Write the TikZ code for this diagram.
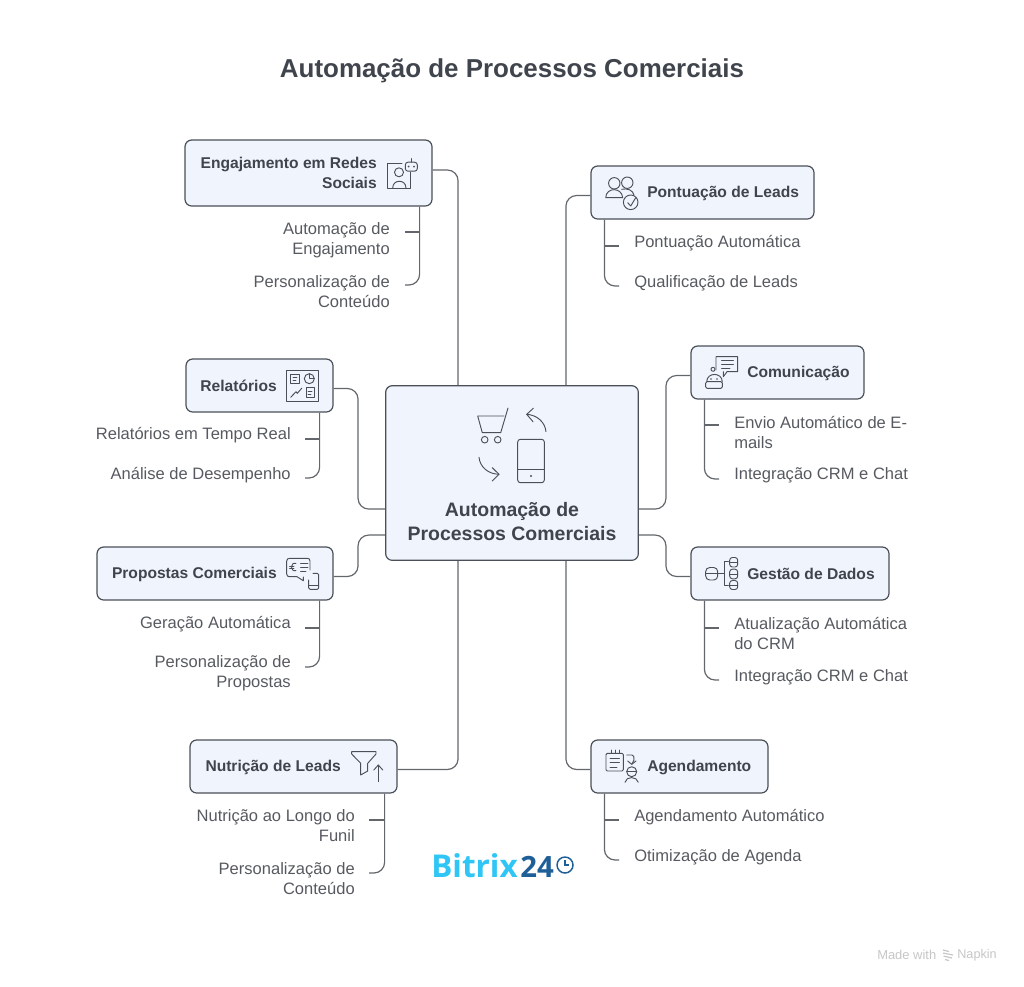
\documentclass[tikz,border=0pt]{standalone}
\usepackage{fontspec}
\usepackage{xcolor}
\usetikzlibrary{calc}
\setmainfont{Liberation Sans}
\newfontfamily\logofont{Open Sans}
\definecolor{boxfill}{HTML}{EFF4FD}
\definecolor{boxline}{HTML}{4B5058}
\definecolor{linkcol}{HTML}{63676C}
\definecolor{headcol}{HTML}{40454D}
\definecolor{leafcol}{HTML}{565A60}
\definecolor{logoblue}{HTML}{2FC6F6}
\definecolor{logodark}{HTML}{1F5F98}
\definecolor{faint}{HTML}{C6C6C6}

\begin{document}
\begin{tikzpicture}[x=0.75pt,y=-0.75pt,
    boxnode/.style={rectangle, draw=boxline, fill=boxfill, line width=0.9pt, rounded corners=5pt, minimum height=39.75pt},
    headnode/.style={inner sep=0pt, text=headcol, font=\bfseries\fontsize{11.7}{15}\selectfont},
    leafnode/.style={inner sep=0pt, text=leafcol, font=\fontsize{12.4}{15}\selectfont},
    link/.style={draw=linkcol, line width=0.9pt, rounded corners=8pt},
    icon/.style={draw=boxline, line width=0.7pt, line cap=round, line join=round}]
    \useasboundingbox (0,0) rectangle (1024,986);

    \node[inner sep=0pt, text=headcol, font=\bfseries\fontsize{19.45}{24}\selectfont] (title) at (512,71) {Automação de Processos Comerciais};

    % boxes
    \node[boxnode, minimum width=185.25pt, minimum height=49.5pt] (eng) at (308.5,173) {};
    \node[boxnode, minimum width=167.25pt] (pon) at (702.5,192.5) {};
    \node[boxnode, minimum width=129.75pt] (com) at (777.5,372.5) {};
    \node[boxnode, minimum width=110.25pt] (rel) at (259.5,385.5) {};
    \node[boxnode, minimum width=189.5pt, minimum height=131pt] (cen) at (512,473) {};
    \node[boxnode, minimum width=177pt] (pro) at (215,573.5) {};
    \node[boxnode, minimum width=148.5pt] (ges) at (790,573.5) {};
    \node[boxnode, minimum width=155.25pt] (nut) at (293.5,766.5) {};
    \node[boxnode, minimum width=132.75pt] (age) at (679.5,766.5) {};

    % box texts
    \node[headnode, align=right, anchor=east] (engT) at (377,173) {Engajamento em Redes\\Sociais};
    \node[headnode, anchor=west] (ponT) at (647,193) {Pontuação de Leads};
    \node[headnode, anchor=west] (comT) at (747,373) {Comunicação};
    \node[headnode, anchor=east] (relT) at (277,386) {Relatórios};
    \node[headnode, anchor=east] (proT) at (277,574) {Propostas Comerciais};
    \node[headnode, anchor=west] (gesT) at (747,574) {Gestão de Dados};
    \node[headnode, anchor=east] (nutT) at (341,767) {Nutrição de Leads};
    \node[headnode, anchor=west] (ageT) at (647,767) {Agendamento};
    \node[headnode, align=center, font=\bfseries\fontsize{14.6}{18}\selectfont] (cenT) at (512,522) {Automação de\\Processos Comerciais};

    % leaves
    \node[leafnode, align=right, anchor=east] (eng1) at (390,240) {Automação de\\Engajamento};
    \node[leafnode, align=right, anchor=east] (eng2) at (390,292) {Personalização de\\Conteúdo};
    \node[leafnode, anchor=west] (pon1) at (634,243) {Pontuação Automática};
    \node[leafnode, anchor=west] (pon2) at (634,283) {Qualificação de Leads};
    \node[leafnode, align=left, anchor=west] (com1) at (734,432) {Envio Automático de E-\\mails};
    \node[leafnode, anchor=west] (com2) at (734,475) {Integração CRM e Chat};
    \node[leafnode, anchor=east] (rel1) at (291,435) {Relatórios em Tempo Real};
    \node[leafnode, anchor=east] (rel2) at (291,475) {Análise de Desempenho};
    \node[leafnode, anchor=east] (pro1) at (291,624) {Geração Automática};
    \node[leafnode, align=right, anchor=east] (pro2) at (291,673) {Personalização de\\Propostas};
    \node[leafnode, align=left, anchor=west] (ges1) at (734,633) {Atualização Automática\\do CRM};
    \node[leafnode, anchor=west] (ges2) at (734,677) {Integração CRM e Chat};
    \node[leafnode, align=right, anchor=east] (nut1) at (355,826) {Nutrição ao Longo do\\Funil};
    \node[leafnode, align=right, anchor=east] (nut2) at (355,879) {Personalização de\\Conteúdo};
    \node[leafnode, anchor=west] (age1) at (634,817) {Agendamento Automático};
    \node[leafnode, anchor=west] (age2) at (634,857) {Otimização de Agenda};

    % main connectors
    \draw[link] ($(eng.east)+(0,-3)$) -| ($(cen.north west)+(73,0)$);
    \draw[link] ($(pon.west)+(0,3)$) -| ($(cen.north east)+(-73,0)$);
    \draw[link] ($(com.west)+(0,3)$) -| ($(cen.north east)+(27,124)$) -- ($(cen.north east)+(0,124)$);
    \draw[link] ($(rel.east)+(0,3)$) -| ($(cen.north west)+(-27,124)$) -- ($(cen.north west)+(0,124)$);
    \draw[link] ($(pro.east)+(0,3)$) -| ($(cen.north west)+(-27,150)$) -- ($(cen.north west)+(0,150)$);
    \draw[link] ($(ges.west)+(0,3)$) -| ($(cen.north east)+(27,150)$) -- ($(cen.north east)+(0,150)$);
    \draw[link] ($(nut.east)+(0,3)$) -| ($(cen.south west)+(73,0)$);
    \draw[link] ($(age.west)+(0,3)$) -| ($(cen.south east)+(-73,0)$);

    % leaf connectors
    \coordinate (engS) at ($(eng.south east)+(-13,0)$);
    \coordinate (engA) at (405,232);
    \coordinate (engB) at (405,285);
    \draw[link] (engS) |- (engB);
    \draw[link] (engA) -- (engA -| engS);
    \coordinate (ponS) at ($(pon.south west)+(14,0)$);
    \coordinate (ponA) at (619,246);
    \coordinate (ponB) at (619,286);
    \draw[link] (ponS) |- (ponB);
    \draw[link] (ponA) -- (ponA -| ponS);
    \coordinate (comS) at ($(com.south west)+(14,0)$);
    \coordinate (comA) at (719,425);
    \coordinate (comB) at (719,479);
    \draw[link] (comS) |- (comB);
    \draw[link] (comA) -- (comA -| comS);
    \coordinate (relS) at ($(rel.south east)+(-14,0)$);
    \coordinate (relA) at (305,439);
    \coordinate (relB) at (305,478);
    \draw[link] (relS) |- (relB);
    \draw[link] (relA) -- (relA -| relS);
    \coordinate (proS) at ($(pro.south east)+(-14,0)$);
    \coordinate (proA) at (305,628);
    \coordinate (proB) at (305,667);
    \draw[link] (proS) |- (proB);
    \draw[link] (proA) -- (proA -| proS);
    \coordinate (gesS) at ($(ges.south west)+(14,0)$);
    \coordinate (gesA) at (719,628);
    \coordinate (gesB) at (719,680);
    \draw[link] (gesS) |- (gesB);
    \draw[link] (gesA) -- (gesA -| gesS);
    \coordinate (nutS) at ($(nut.south east)+(-13,0)$);
    \coordinate (nutA) at (369,820);
    \coordinate (nutB) at (369,873);
    \draw[link] (nutS) |- (nutB);
    \draw[link] (nutA) -- (nutA -| nutS);
    \coordinate (ageS) at ($(age.south west)+(14,0)$);
    \coordinate (ageA) at (619,820);
    \coordinate (ageB) at (619,860);
    \draw[link] (ageS) |- (ageB);
    \draw[link] (ageA) -- (ageA -| ageS);

    % centre icon
    \draw[icon] (508,408) -- (500.7,432.7) -- (482.3,432.7) -- (477.7,416) -- (504,416);
    \draw[icon] (484.7,439.7) circle (3.3) (497.7,439.7) circle (3.3);
    \draw[icon] (546,431.7) .. controls (545,422) and (537,415) .. (526.7,414.3);
    \draw[icon] (533.3,408.3) -- (526.7,414.3) -- (533,421.7);
    \draw[icon, rounded corners=2pt] (517.7,439.3) rectangle (544.3,482.7);
    \draw[icon] (517.7,469) -- (544.3,469);
    \fill[boxline] (531,476) circle (1.2);
    \draw[icon] (479,457.3) .. controls (480,467) and (488,474) .. (499,474.3);
    \draw[icon] (492.3,467.7) -- (499,474.3) -- (492.3,481);

    % engajamento icon
    \draw[icon] (402,163.3) -- (387.3,163.3) -- (387.3,188.3) -- (410.7,188.3) -- (410.7,172);
    \draw[icon] (399,172.3) circle (4.5);
    \draw[icon] (392.7,188) .. controls (392.7,179) and (406,179) .. (406,188);
    \draw[icon, rounded corners=2pt] (405.3,162.2) rectangle (417.3,171.2);
    \draw[icon] (411.3,158.5) -- (411.3,162.2);
    \fill[boxline] (408.7,166.5) circle (1) (414,166.5) circle (1);

    % pontuacao icon
    \draw[icon] (614.3,183.3) circle (5.7) (627.3,182.7) circle (5.7);
    \draw[icon] (605.7,197.7) .. controls (606,187) and (622,187) .. (622.7,197.7) -- cycle;
    \draw[icon] (621.7,189.3) .. controls (627,188) and (633,190) .. (634,195);
    \draw[icon, fill=boxfill] (630.7,202.3) circle (7.3);
    \draw[icon] (627.7,202.7) -- (630.7,206) -- (635.7,197.7);

    % comunicacao icon
    \draw[icon] (716,370) -- (716,356.7) -- (737.7,356.7) -- (737.7,371.7) -- (727,371.7) -- (723.3,376.7) -- (723.3,371.7);
    \draw[icon] (721.7,360.5) -- (733.3,360.5) (721.7,364.3) -- (733.3,364.3) (721.7,368) -- (730,368);
    \draw[icon] (713,369.3) circle (2);
    \draw[icon] (706.7,381.7) .. controls (707,372) and (722,372) .. (722.3,381.7);
    \draw[icon, rounded corners=1pt] (705.7,381.7) rectangle (722.3,388.3);
    \fill[boxline] (711,379) circle (0.8) (717,379) circle (0.8);

    % relatorios icon
    \draw[icon] (286.7,370) rectangle (318.7,401.7);
    \draw[icon] (290.7,374.3) rectangle (299.3,383.3);
    \draw[icon] (293,377.5) -- (297,377.5) (293,380.5) -- (296,380.5);
    \draw[icon] (309.3,378.7) circle (5);
    \draw[icon] (309.3,373.7) -- (309.3,378.7) -- (314.3,378.7);
    \draw[icon] (290.7,397.3) -- (296,391.7) -- (297.3,393.3) -- (301.7,388.3);
    \draw[icon] (306,387.7) rectangle (314.3,397.3);
    \draw[icon] (308,391.5) -- (312,391.5) (308,394) -- (311,394);

    % propostas icon
    \draw[icon] (310,570) -- (310,561) .. controls (310,559) and (309,558.3) .. (307,558.3) -- (290,558.3) .. controls (288,558.3) and (286.7,559) .. (286.7,561) -- (286.7,574) .. controls (286.7,576) and (288,576.7) .. (290,576.7) -- (297,576.7) -- (303.3,580.7) -- (303.3,577);
    \draw[icon] (296,563.5) .. controls (290,561.5) and (290,572.5) .. (296,570.5);
    \draw[icon] (289.5,566) -- (294,566) (289.5,568.5) -- (294,568.5);
    \draw[icon] (300.7,563.3) -- (308,563.3) (300.7,567.3) -- (308,567.3) (300.7,571.7) -- (306,571.7);
    \draw[icon, rounded corners=1pt] (313,573.3) -- (318.7,573.3) -- (318.7,589.3) -- (308.7,589.3) -- (308.7,580);
    \draw[icon] (308.7,585) -- (318.7,585);

    % gestao icon
    \draw[icon, rounded corners=3pt] (705.7,567.5) rectangle (717.7,580);
    \draw[icon] (705.7,573.3) -- (717.7,573.3);
    \draw[icon] (718.3,573.3) -- (724.3,573.3) (728.3,561.7) -- (724.3,561.7) -- (724.3,585) -- (728.3,585);
    \draw[icon, rounded corners=2pt] (729.7,557.5) rectangle (737.7,567);
    \draw[icon, rounded corners=2pt] (729.7,569.2) rectangle (737.7,578.8);
    \draw[icon, rounded corners=2pt] (729.7,580.5) rectangle (737.7,589.5);
    \draw[icon] (729.7,562.3) -- (737.7,562.3) (729.7,574) -- (737.7,574) (729.7,585) -- (737.7,585);

    % nutricao icon
    \draw[icon] (351.7,751.7) -- (376,751.7) -- (376,754) -- (367.7,763.3) -- (367.7,771) -- (360.7,775) -- (360.7,763.3) -- (351.7,754) -- cycle;
    \draw[icon] (378.3,781.7) -- (378.3,765);
    \draw[icon] (373.8,770) -- (378.3,765) -- (382.8,770);

    % agendamento icon
    \draw[icon, rounded corners=1pt] (606,753.3) rectangle (623.3,771);
    \draw[icon] (611.7,750) -- (611.7,753.3) (615.7,750) -- (615.7,753.3) (619.7,750) -- (619.7,753.3);
    \draw[icon] (610,758.3) -- (619.3,758.3) (610,762.7) -- (619.3,762.7) (610,767) -- (617,767);
    \draw[icon] (626.7,755) -- (632,755) .. controls (634,755) and (634,757) .. (634,760) -- (631.7,764.3);
    \draw[icon] (627.7,761) -- (631.7,764.3) -- (636,761);
    \draw[icon] (631.7,771.7) circle (5);
    \draw[icon] (626.7,771.7) -- (636.7,771.7);
    \draw[icon] (625,782.3) .. controls (626,776) and (637,776) .. (638.3,782.3);

    % logo
    \node[inner sep=0pt, anchor=base west, text=logoblue, font=\logofont\bfseries\fontsize{23.6}{25}\selectfont] (bitrix) at (431,877) {Bitrix};
    \node[inner sep=0pt, anchor=base west, text=logodark, font=\logofont\bfseries\fontsize{22}{25}\selectfont] (bitnum) at (520,877) {24};
    \node[circle, draw=logodark, line width=1.1pt, minimum size=12pt, inner sep=0pt] (clock) at (565,865) {};
    \draw[logodark, line width=1pt] ($(clock.center)+(0,-5)$) -- (clock.center) -- ($(clock.center)+(4,0)$);

    % footer
    \node[inner sep=0pt, anchor=west, text=faint, font=\fontsize{9.7}{11}\selectfont] (made) at (877,955) {Made with};
    \node[inner sep=0pt, anchor=east, text=faint, font=\fontsize{9.5}{11}\selectfont] (napkin) at (997,955) {Napkin};
    \draw[faint, line width=0.9pt] (943,950) -- (949,951.5) (943,953) -- (953,955) (943.5,956) -- (952,958) (945,959.5) -- (949,960.5);
\end{tikzpicture}
\end{document}
